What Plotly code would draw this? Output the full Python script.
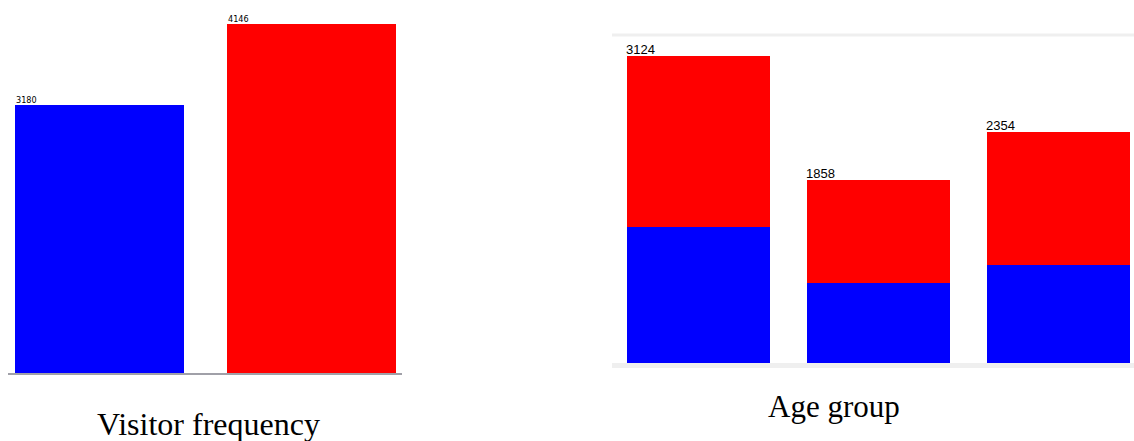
import plotly.graph_objects as go

W, H = 1134, 441

# ---- data ----
visitor_categories = ["First visit", "Repeat visit"]
visitor_values = [3180, 4146]
visitor_colors = ["#0000ff", "#ff0000"]

age_categories = ["Group 1", "Group 2", "Group 3"]
age_blue = [1384, 814, 997]
age_red = [1740, 1044, 1357]
age_totals = [3124, 1858, 2354]

def px(x):
    return x / W

def py(y):
    return 1 - y / H

fig = go.Figure()

# Left chart
fig.add_trace(go.Bar(
    x=[0, 1], y=visitor_values, width=0.797,
    marker=dict(color=visitor_colors, line=dict(width=0)),
    xaxis="x", yaxis="y", showlegend=False, hoverinfo="y",
))

# Right chart (stacked)
fig.add_trace(go.Bar(
    x=[0, 1, 2], y=age_blue, width=0.794,
    marker=dict(color="#0000ff", line=dict(width=0)),
    xaxis="x2", yaxis="y2", showlegend=False,
))
fig.add_trace(go.Bar(
    x=[0, 1, 2], y=age_red, width=0.794,
    marker=dict(color="#ff0000", line=dict(width=0)),
    xaxis="x2", yaxis="y2", showlegend=False,
))

annotations = []
for i, v in enumerate(visitor_values):
    annotations.append(dict(
        x=i - 0.797 / 2, y=v, xref="x", yref="y", text=str(v),
        showarrow=False, xanchor="left", yanchor="bottom",
        font=dict(family="DejaVu Sans Condensed, Liberation Sans Narrow, Arial", size=9, color="#000"),
        borderpad=0, yshift=-1,
    ))
for i, v in enumerate(age_totals):
    annotations.append(dict(
        x=i - 0.794 / 2, y=v, xref="x2", yref="y2", text=str(v),
        showarrow=False, xanchor="left", yanchor="bottom",
        font=dict(family="Liberation Sans, Arial", size=13, color="#000"),
        borderpad=0, yshift=-2, xshift=-2,
    ))
annotations.append(dict(
    x=px(208.5), y=py(436), xref="paper", yref="paper", text="Visitor frequency",
    showarrow=False, xanchor="center", yanchor="bottom", yshift=-8,
    font=dict(family="Liberation Serif, Times New Roman", size=32, color="#000"),
))
annotations.append(dict(
    x=px(834), y=py(418), xref="paper", yref="paper", text="Age group",
    showarrow=False, xanchor="center", yanchor="bottom", yshift=-8,
    font=dict(family="Liberation Serif, Times New Roman", size=31, color="#000"),
))

shapes = [
    # left baseline
    dict(type="rect", xref="paper", yref="paper", x0=px(8), x1=px(402),
         y0=py(375), y1=py(373), fillcolor="#a0a0a8", line=dict(width=0), layer="below"),
    # right top line
    dict(type="rect", xref="paper", yref="paper", x0=px(612), x1=px(1134),
         y0=py(36.5), y1=py(33.5), fillcolor="#efefef", line=dict(width=0), layer="below"),
    # right bottom band
    dict(type="rect", xref="paper", yref="paper", x0=px(612), x1=px(1134),
         y0=py(368), y1=py(363), fillcolor="#efefef", line=dict(width=0), layer="below"),
]

left_scale = 268 / 3180          # px per unit
right_scale = 307 / 3124

fig.update_layout(
    width=W, height=H,
    margin=dict(l=0, r=0, t=0, b=0),
    paper_bgcolor="white", plot_bgcolor="rgba(0,0,0,0)",
    barmode="stack",
    xaxis=dict(domain=[px(8), px(402)],
               range=[(8 - 99.5) / 212, (402 - 99.5) / 212],
               visible=False, fixedrange=True),
    yaxis=dict(domain=[py(373), 1.0], range=[0, 373 / left_scale],
               visible=False, fixedrange=True),
    xaxis2=dict(domain=[px(612), 1.0],
                range=[(612 - 698.5) / 180, (1134 - 698.5) / 180],
                visible=False, fixedrange=True, anchor="y2"),
    yaxis2=dict(domain=[py(363), py(35)], range=[0, (363 - 35) / right_scale],
                visible=False, fixedrange=True, anchor="x2"),
    annotations=annotations,
    shapes=shapes,
    bargap=0,
)

fig.write_html("out.html")
